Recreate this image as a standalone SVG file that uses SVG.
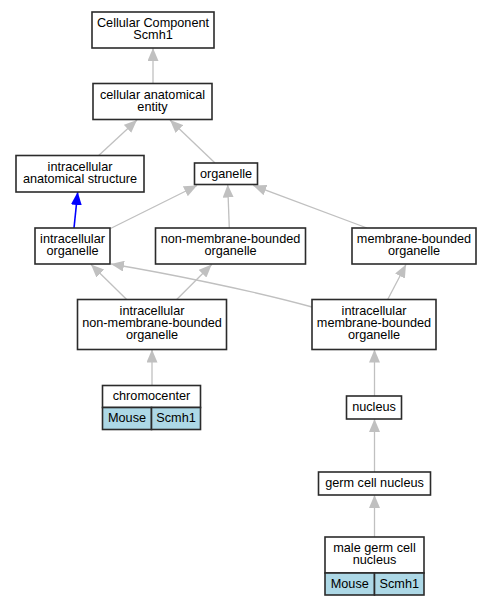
<svg xmlns="http://www.w3.org/2000/svg" width="491" height="605" viewBox="0 0 491 605">
<style>
.box{fill:#ffffff;stroke:#2b2b2b;stroke-width:1.6}
.sp{fill:#add8e6;stroke:#2b2b2b;stroke-width:1.6}
text{font-family:"Liberation Sans",Arial,sans-serif;font-size:12.7px;fill:#000;text-anchor:middle}
.e{fill:none;stroke:#c0c0c0;stroke-width:1.3}
.eb{fill:none;stroke:#0000ff;stroke-width:1.6}
</style>
<defs>
<marker id="ag" markerUnits="userSpaceOnUse" viewBox="0 0 13 11" refX="13" refY="5.5" markerWidth="13" markerHeight="11" orient="auto"><path d="M0,0 L13,5.5 L0,11 z" fill="#c0c0c0"/></marker>
<marker id="ab" markerUnits="userSpaceOnUse" viewBox="0 0 13 11" refX="13" refY="5.5" markerWidth="13" markerHeight="11" orient="auto"><path d="M0,0 L13,5.5 L0,11 z" fill="#0000ff"/></marker>
</defs>
<rect width="491" height="605" fill="#ffffff"/>
<g id="edges">
<path class="e" marker-end="url(#ag)" d="M153,83.5 L153,48"/>
<path class="e" marker-end="url(#ag)" d="M98.7,155.5 L137,120"/>
<path class="e" marker-end="url(#ag)" d="M215,163 L170,120"/>
<path class="eb" marker-end="url(#ab)" d="M74,228 L77.7,192"/>
<path class="e" marker-end="url(#ag)" d="M110.5,228.5 L197,185.5"/>
<path class="e" marker-end="url(#ag)" d="M229.3,228 L227.7,184.5"/>
<path class="e" marker-end="url(#ag)" d="M367,228 L253.3,185.5"/>
<path class="e" marker-end="url(#ag)" d="M126.7,299.5 L91,264.5"/>
<path class="e" marker-end="url(#ag)" d="M176.7,299.5 L211.7,264.5"/>
<path class="e" marker-end="url(#ag)" d="M312,307 C250,290 165,273 111,264"/>
<path class="e" marker-end="url(#ag)" d="M387.7,299.5 L406,264.5"/>
<path class="e" marker-end="url(#ag)" d="M152,385.5 L152,349.5"/>
<path class="e" marker-end="url(#ag)" d="M374.5,396 L374.5,349.5"/>
<path class="e" marker-end="url(#ag)" d="M374.5,472 L374.5,419"/>
<path class="e" marker-end="url(#ag)" d="M374.5,537 L374.5,495"/>
</g>
<g id="n_cellular_component">
<rect class="box" x="92" y="12" width="122" height="36"/>
<text x="153" y="27.3">Cellular Component</text>
<text x="153" y="39.3">Scmh1</text>
</g>
<g id="n_cellular_anatomical_entity">
<rect class="box" x="93" y="83.5" width="119" height="36"/>
<text x="152.5" y="98.5">cellular anatomical</text>
<text x="152.5" y="110.6">entity</text>
</g>
<g id="n_intracellular_anatomical_structure">
<rect class="box" x="16" y="155.5" width="128" height="36.5"/>
<text x="80" y="170.8">intracellular</text>
<text x="80" y="182.9">anatomical structure</text>
</g>
<g id="n_organelle">
<rect class="box" x="194.5" y="163" width="63" height="21.5"/>
<text x="226" y="177.5">organelle</text>
</g>
<g id="n_intracellular_organelle">
<rect class="box" x="35" y="228" width="75" height="36"/>
<text x="72.5" y="243">intracellular</text>
<text x="72.5" y="255.1">organelle</text>
</g>
<g id="n_non_membrane_bounded_organelle">
<rect class="box" x="155.5" y="228" width="150" height="36"/>
<text x="230.5" y="243">non-membrane-bounded</text>
<text x="230.5" y="255.1">organelle</text>
</g>
<g id="n_membrane_bounded_organelle">
<rect class="box" x="352" y="228" width="124" height="36"/>
<text x="414" y="243">membrane-bounded</text>
<text x="414" y="255.1">organelle</text>
</g>
<g id="n_intracellular_non_membrane_bounded_organelle">
<rect class="box" x="77.5" y="299.5" width="149" height="50"/>
<text x="152" y="314.6">intracellular</text>
<text x="152" y="326.9">non-membrane-bounded</text>
<text x="152" y="339.2">organelle</text>
</g>
<g id="n_intracellular_membrane_bounded_organelle">
<rect class="box" x="312" y="299.5" width="124" height="50"/>
<text x="374" y="314.6">intracellular</text>
<text x="374" y="326.9">membrane-bounded</text>
<text x="374" y="339.2">organelle</text>
</g>
<g id="n_chromocenter">
<rect class="box" x="102.5" y="385.5" width="98" height="22"/>
<rect class="sp" x="102.5" y="407.5" width="49" height="22"/>
<rect class="sp" x="151.5" y="407.5" width="49" height="22"/>
<text x="151.5" y="399.8">chromocenter</text>
<text x="127" y="421.5">Mouse</text>
<text x="176" y="421.5">Scmh1</text>
</g>
<g id="n_nucleus">
<rect class="box" x="346.5" y="396" width="55" height="23"/>
<text x="374" y="411">nucleus</text>
</g>
<g id="n_germ_cell_nucleus">
<rect class="box" x="318.5" y="472" width="112" height="23"/>
<text x="374.5" y="487">germ cell nucleus</text>
</g>
<g id="n_male_germ_cell_nucleus">
<rect class="box" x="325" y="537" width="99" height="36"/>
<rect class="sp" x="325" y="573" width="49.5" height="22"/>
<rect class="sp" x="374.5" y="573" width="49.5" height="22"/>
<text x="374.5" y="552">male germ cell</text>
<text x="374.5" y="564.1">nucleus</text>
<text x="349.75" y="587.5">Mouse</text>
<text x="399.25" y="587.5">Scmh1</text>
</g>
</svg>
